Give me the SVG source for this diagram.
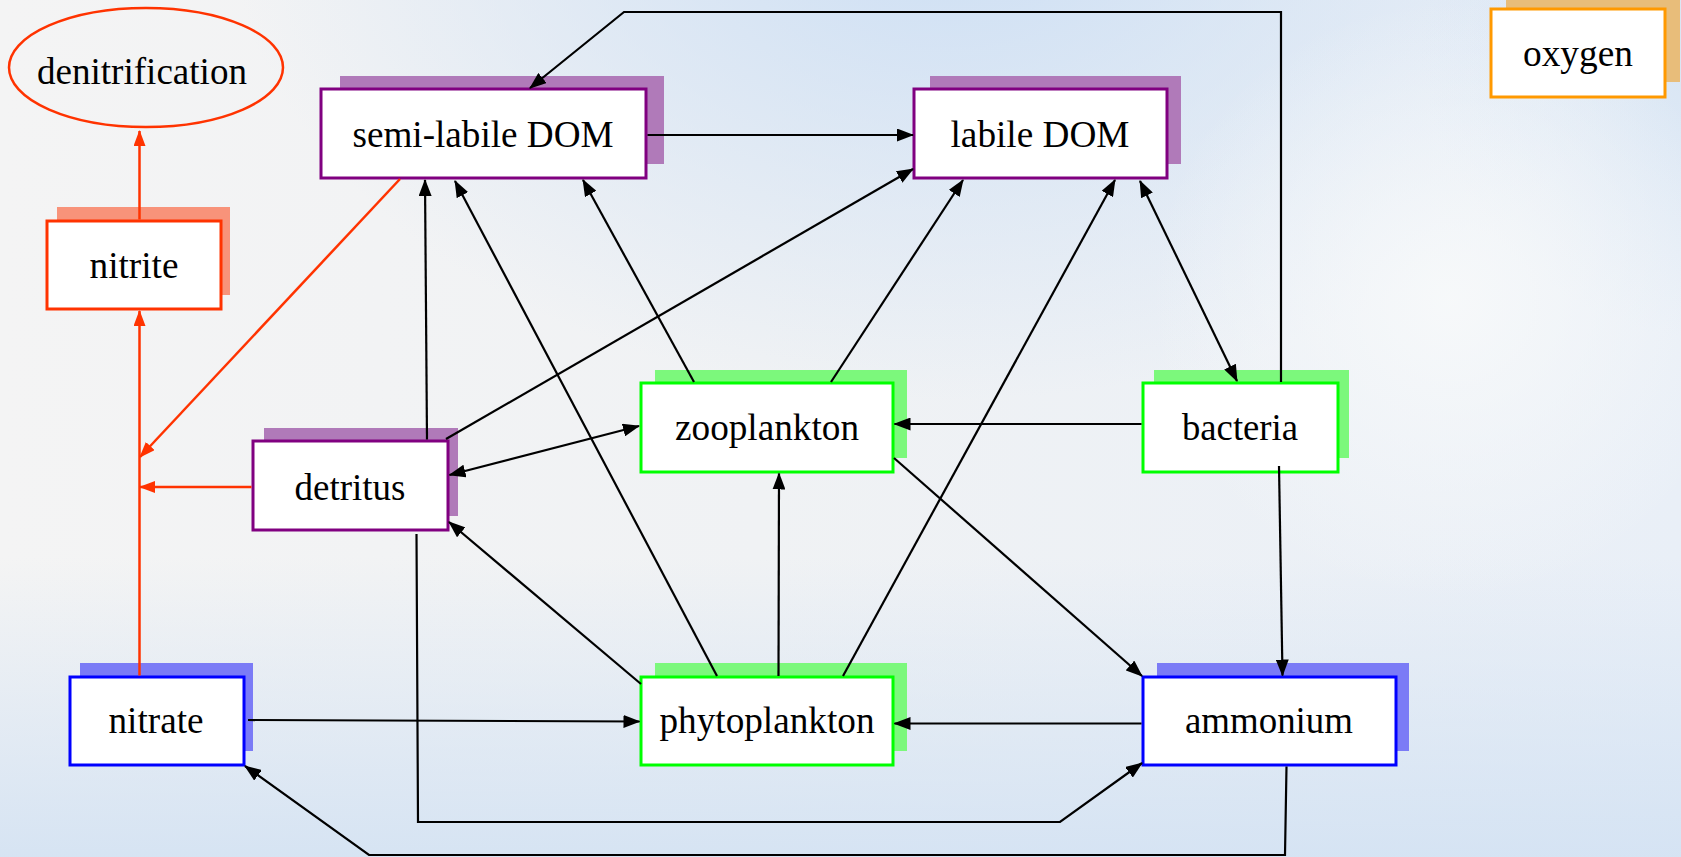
<svg xmlns="http://www.w3.org/2000/svg" width="1681" height="857" viewBox="0 0 1681 857">
<defs>
<linearGradient id="bgH" x1="0" y1="0" x2="1" y2="0">
<stop offset="0" stop-color="#f4f4f4"/>
<stop offset="0.45" stop-color="#f0f2f4"/>
<stop offset="1" stop-color="#e9eff7"/>
</linearGradient>
<radialGradient id="skyTop" cx="950" cy="-80" r="600" gradientUnits="userSpaceOnUse" gradientTransform="translate(950,-80) scale(1.2,0.8) translate(-950,80)">
<stop offset="0" stop-color="#cddff4" stop-opacity="1"/>
<stop offset="1" stop-color="#cddff4" stop-opacity="0"/>
</radialGradient>
<radialGradient id="skyRight" cx="1720" cy="40" r="300" gradientUnits="userSpaceOnUse">
<stop offset="0" stop-color="#d2e2f3" stop-opacity="0.8"/>
<stop offset="1" stop-color="#d2e2f3" stop-opacity="0"/>
</radialGradient>
<linearGradient id="skyBottom" x1="0" y1="0" x2="0" y2="1">
<stop offset="0.65" stop-color="#d3e2f3" stop-opacity="0"/>
<stop offset="1" stop-color="#d3e2f3" stop-opacity="0.9"/>
</linearGradient>
<radialGradient id="cloud" cx="1450" cy="300" r="300" gradientUnits="userSpaceOnUse">
<stop offset="0" stop-color="#f7f9fa" stop-opacity="0.95"/>
<stop offset="1" stop-color="#f7f9fa" stop-opacity="0"/>
</radialGradient>
<marker id="ah" markerUnits="userSpaceOnUse" markerWidth="17" markerHeight="13" refX="16" refY="6.5" orient="auto-start-reverse">
<path d="M0,0 L17,6.5 L0,13 z" fill="#000"/>
</marker>
<marker id="ahr" markerUnits="userSpaceOnUse" markerWidth="16" markerHeight="12" refX="15" refY="6" orient="auto-start-reverse">
<path d="M0,0 L16,6 L0,12 z" fill="#ff3300"/>
</marker>
</defs>
<style>
text{font-family:"Liberation Serif","Times New Roman",serif;font-size:38px;fill:#000;text-anchor:middle}
.box{fill:#fff;stroke-width:3}
.c{fill:none;stroke:#000;stroke-width:2.2;marker-end:url(#ah)}
.c2{fill:none;stroke:#000;stroke-width:2.2;marker-end:url(#ah);marker-start:url(#ah)}
.r{fill:none;stroke:#ff3300;stroke-width:2.5;marker-end:url(#ahr)}
.shP{fill:#b07ab9}.shG{fill:#7cf87c}.shB{fill:#7b7bf6}.shS{fill:#f8937a}.shO{fill:#e8bd7a}
.bP{stroke:#800080}.bG{stroke:#00ff00}.bB{stroke:#0000ff}.bS{stroke:#ff3300}.bO{stroke:#ff9900}
</style>
<rect width="1681" height="857" fill="url(#bgH)"/>
<rect width="1681" height="857" fill="url(#skyTop)"/>
<rect width="1681" height="857" fill="url(#skyRight)"/>
<rect width="1681" height="857" fill="url(#skyBottom)"/>
<rect width="1681" height="857" fill="url(#cloud)"/>

<g id="denitrification">
<ellipse cx="146" cy="67.5" rx="137" ry="59.5" fill="none" stroke="#ff3300" stroke-width="2.5"/>
<text x="142" y="84" textLength="210" lengthAdjust="spacingAndGlyphs">denitrification</text>
</g>
<g id="nitrite">
<rect class="shS" x="57" y="207" width="173" height="88"/>
<rect class="box bS" x="47" y="221" width="174" height="88"/>
<text x="134" y="278" textLength="89" lengthAdjust="spacingAndGlyphs">nitrite</text>
</g>
<g id="semi-labile-DOM">
<rect class="shP" x="340" y="76" width="324" height="88"/>
<rect class="box bP" x="321" y="89" width="325" height="89"/>
<text x="483" y="147" textLength="261" lengthAdjust="spacingAndGlyphs">semi-labile DOM</text>
</g>
<g id="labile-DOM">
<rect class="shP" x="930" y="76" width="251" height="88"/>
<rect class="box bP" x="914" y="89" width="253" height="89"/>
<text x="1040" y="147" textLength="179" lengthAdjust="spacingAndGlyphs">labile DOM</text>
</g>
<g id="oxygen">
<rect class="shO" x="1506" y="-6" width="174" height="88"/>
<rect class="box bO" x="1491" y="9" width="174" height="88"/>
<text x="1578" y="66" textLength="110" lengthAdjust="spacingAndGlyphs">oxygen</text>
</g>
<g id="detritus">
<rect class="shP" x="264" y="428" width="194" height="88"/>
<rect class="box bP" x="253" y="441" width="195" height="89"/>
<text x="350" y="500" textLength="111" lengthAdjust="spacingAndGlyphs">detritus</text>
</g>
<g id="zooplankton">
<rect class="shG" x="655" y="370" width="252" height="88"/>
<rect class="box bG" x="641" y="383" width="252" height="89"/>
<text x="767" y="440" textLength="184" lengthAdjust="spacingAndGlyphs">zooplankton</text>
</g>
<g id="bacteria">
<rect class="shG" x="1154" y="370" width="195" height="88"/>
<rect class="box bG" x="1143" y="383" width="195" height="89"/>
<text x="1240" y="440" textLength="116" lengthAdjust="spacingAndGlyphs">bacteria</text>
</g>
<g id="nitrate">
<rect class="shB" x="80" y="663" width="173" height="88"/>
<rect class="box bB" x="70" y="677" width="174" height="88"/>
<text x="156" y="733" textLength="95" lengthAdjust="spacingAndGlyphs">nitrate</text>
</g>
<g id="phytoplankton">
<rect class="shG" x="655" y="663" width="252" height="88"/>
<rect class="box bG" x="641" y="677" width="252" height="88"/>
<text x="767" y="733" textLength="215" lengthAdjust="spacingAndGlyphs">phytoplankton</text>
</g>
<g id="ammonium">
<rect class="shB" x="1157" y="663" width="252" height="88"/>
<rect class="box bB" x="1143" y="677" width="253" height="88"/>
<text x="1269" y="733" textLength="168" lengthAdjust="spacingAndGlyphs">ammonium</text>
</g>

<g id="connectors">
<path class="r" d="M139.5,219.5 L139.5,131"/>
<path class="r" d="M139.5,675.5 L139.5,311"/>
<path class="r" d="M400,179 L140,457"/>
<path class="r" d="M251.5,487 L140,487"/>
<path class="c" d="M1281,382 L1281,12 L624,12 L530,88"/>
<path class="c" d="M647.5,135 L913,135"/>
<path class="c" d="M427,439.5 L425,180"/>
<path class="c" d="M717,676 L455,181"/>
<path class="c" d="M694,382 L583,180"/>
<path class="c" d="M446,439 L913,169"/>
<path class="c" d="M831,382 L963,180"/>
<path class="c" d="M843,676 L1115,180"/>
<path class="c2" d="M1140,181 L1237,381"/>
<path class="c" d="M1141.5,424 L894.5,424"/>
<path class="c2" d="M449.5,475 L639,426"/>
<path class="c" d="M641,684 L449,522"/>
<path class="c" d="M778.5,676 L779,473.5"/>
<path class="c" d="M894,458 L1142,676"/>
<path class="c" d="M1279,466 L1282.5,675.5"/>
<path class="c" d="M1141.5,723.5 L894.5,723.5"/>
<path class="c" d="M248,720 L639.5,721.5"/>
<path class="c" d="M416.5,534 L418,822 L1060,822 L1142,763"/>
<path class="c" d="M1286.5,766.5 L1285,855 L369,855 L245,766"/>
</g>
</svg>
